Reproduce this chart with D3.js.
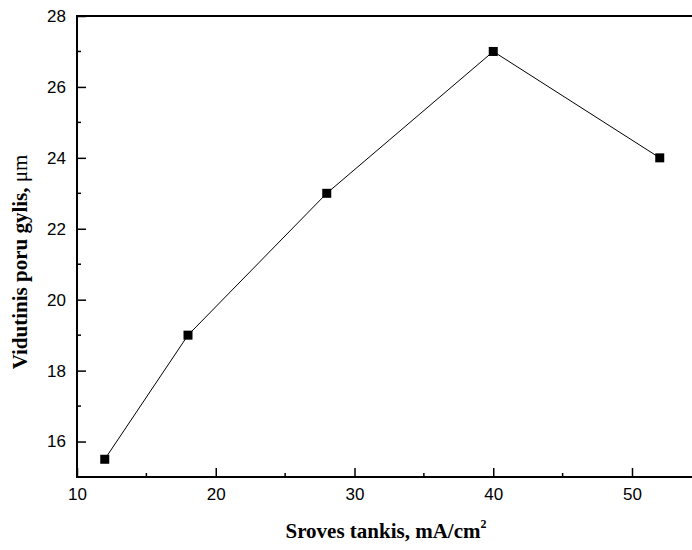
<!DOCTYPE html>
<html>
<head>
<meta charset="utf-8">
<script src="https://cdn.jsdelivr.net/npm/d3@7"></script>
<style>
  body { margin: 0; background: #fff; }
  svg { display: block; }
</style>
</head>
<body>
<svg width="692" height="550"></svg>
<script>
// data
let currentDensity = [12, 18, 28, 40, 52];
let poreDepth = [15.5, 19, 23, 27, 24];
let xTicks = [10, 20, 30, 40, 50];
let yTicks = [16, 18, 20, 22, 24, 26, 28];

let svg = d3.select("svg"),
    plotLeft = 77, plotTop = 16, plotBottom = 477;

let x = d3.scaleLinear().domain([10, 55]).range([plotLeft, plotLeft + 45 * 13.875]);
let y = d3.scaleLinear().domain([15, 28]).range([plotBottom, plotTop]);

let g = svg.append("g");

// minor ticks
g.selectAll(".xminor")
    .data(d3.range(15, 55, 10))
    .enter().append("line")
    .attr("x1", d => x(d)).attr("x2", d => x(d))
    .attr("y1", plotBottom).attr("y2", plotBottom - 4)
    .attr("stroke", "#000").attr("stroke-width", 1.5);
g.selectAll(".yminor")
    .data(d3.range(17, 28, 2))
    .enter().append("line")
    .attr("x1", plotLeft).attr("x2", plotLeft + 4)
    .attr("y1", d => y(d)).attr("y2", d => y(d))
    .attr("stroke", "#000").attr("stroke-width", 1.5);

// major ticks and labels
let xAxis = g.append("g")
    .attr("transform", "translate(0," + plotBottom + ")")
    .call(d3.axisBottom(x).tickValues(xTicks).tickSizeInner(-9).tickSizeOuter(0).tickPadding(11));
let yAxis = g.append("g")
    .attr("transform", "translate(" + plotLeft + ",0)")
    .call(d3.axisLeft(y).tickValues(yTicks).tickSizeInner(-9).tickSizeOuter(0).tickPadding(11));

[xAxis, yAxis].forEach(a => {
    a.select(".domain").remove();
    a.selectAll(".tick line").attr("stroke", "#000").attr("stroke-width", 1.5);
    a.selectAll(".tick text")
        .attr("fill", "#000")
        .style("font-family", "'Liberation Sans', Arial, sans-serif")
        .style("font-size", "17px");
});

// frame: left, bottom, top
g.append("line").attr("x1", plotLeft).attr("x2", plotLeft).attr("y1", plotTop - 1).attr("y2", plotBottom + 1)
    .attr("stroke", "#000").attr("stroke-width", 2);
g.append("line").attr("x1", plotLeft).attr("x2", 692).attr("y1", plotBottom).attr("y2", plotBottom)
    .attr("stroke", "#000").attr("stroke-width", 2);
g.append("line").attr("x1", plotLeft).attr("x2", 692).attr("y1", plotTop).attr("y2", plotTop)
    .attr("stroke", "#000").attr("stroke-width", 2);

// series line
let pts = currentDensity.map((d, i) => [d, poreDepth[i]]);
g.append("path")
    .datum(pts)
    .attr("fill", "none")
    .attr("stroke", "#000")
    .attr("stroke-width", 1)
    .attr("d", d3.line().x(d => x(d[0])).y(d => y(d[1])));

g.selectAll(".pt")
    .data(pts)
    .enter().append("rect")
    .attr("x", d => x(d[0]) - 4.5)
    .attr("y", d => y(d[1]) - 4.5)
    .attr("width", 9).attr("height", 9)
    .attr("fill", "#000");

// axis titles
let xt = svg.append("text")
    .attr("x", 386).attr("y", 538)
    .attr("text-anchor", "middle")
    .style("font-family", "'Liberation Serif', 'Times New Roman', serif")
    .style("font-weight", "bold")
    .style("font-size", "21px")
    .text("Sroves tankis, mA/cm");
xt.append("tspan").attr("dy", -10).style("font-size", "12px").text("2");

let yt = svg.append("text")
    .attr("transform", "translate(27,262) rotate(-90)")
    .attr("text-anchor", "middle")
    .style("font-family", "'Liberation Serif', 'Times New Roman', serif")
    .style("font-weight", "bold")
    .style("font-size", "21px")
    .text("Vidutinis poru gylis, ");
yt.append("tspan").style("font-weight", "normal").text("μm");
</script>
</body>
</html>
